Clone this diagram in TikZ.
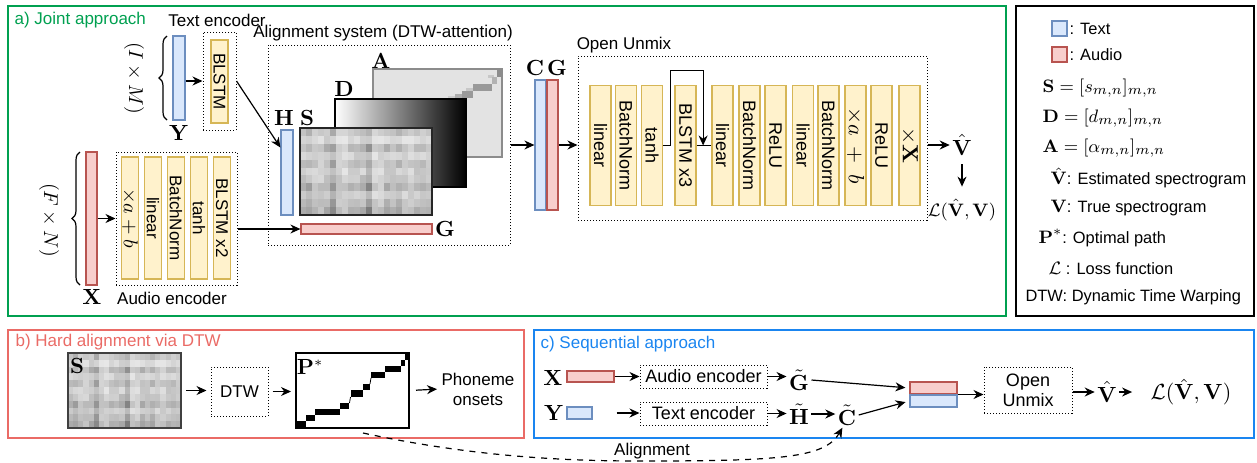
\documentclass[tikz,border=0pt]{standalone}
\usepackage[no-math]{fontspec}
\setmainfont{Liberation Sans}
\usetikzlibrary{arrows.meta,calc,decorations.pathreplacing}

\definecolor{blkfill}{HTML}{FFF2CC}
\definecolor{blkline}{HTML}{D6B656}
\definecolor{txtfill}{HTML}{DAE8FC}
\definecolor{txtline}{HTML}{6C8EBF}
\definecolor{audfill}{HTML}{F8CECC}
\definecolor{audline}{HTML}{B85450}
\definecolor{jointgreen}{HTML}{00A050}
\definecolor{hardred}{HTML}{EA6B66}
\definecolor{seqblue}{HTML}{1A85F0}

% similarity matrix texture: x, y, width, height (px)
\newcommand{\simtex}[4]{%
  \pgfmathsetseed{11}%
  \foreach \ri in {0,...,10}{%
    \foreach \ci in {0,...,21}{%
      \pgfmathsetmacro{\gv}{6+44*{0.5,0.2,0.7,0.3,0.6,0.3,0.5,0.8,0.4,0.6,0.9}[\ri]*{0.5,0.7,0.4,0.4,0.6,1.0,0.4,0.3,0.5,0.5,0.6,1.0,0.3,0.3,0.6,0.5,0.7,0.4,0.3,0.6,0.5,0.4}[\ci]+10*rnd}%
      \fill[black!\gv] ({#1+\ci*#3/22},{#2+\ri*#4/11}) rectangle ({#1+(\ci+1)*#3/22+0.4},{#2+(\ri+1)*#4/11+0.4});
    }%
  }%
}
\newcommand{\lgm}[1]{{\fontsize{9.5}{11}\selectfont$#1$}}

\tikzset{
  panel/.style={line width=0.75pt},
  lbl/.style={font=\fontsize{8.5}{10}\selectfont, inner sep=1pt},
  mlbl/.style={font=\fontsize{10.5}{12}\selectfont, inner sep=1pt},
  lgd/.style={font=\fontsize{8.2}{10}\selectfont, anchor=west, inner sep=0pt},
  blk/.style={draw=blkline, fill=blkfill, line width=0.6pt, rotate=-90, inner sep=0pt,
    font=\fontsize{8.5}{10}\selectfont},
  dotbox/.style={draw, densely dotted, line width=0.5pt, inner sep=0pt},
  txtbar/.style={draw=txtline, fill=txtfill, line width=0.6pt, inner sep=0pt},
  audbar/.style={draw=audline, fill=audfill, line width=0.6pt, inner sep=0pt},
}

\begin{document}
\begin{tikzpicture}[x=0.5pt, y=-0.5pt, line width=0.6pt, >={Stealth[length=5pt,width=4.5pt]}]
\useasboundingbox (0,0) rectangle (1257,462);

% ---------------- a) joint approach
\draw[panel, draw=jointgreen] (8,6) rectangle (1006,316);
\node[lbl, text=jointgreen, anchor=west] (ttla) at (12,20) {a) Joint approach};

% text encoder
\node[lbl] (tenclbl) at (217,20) {Text encoder};
\node[txtbar, minimum width=6pt, minimum height=42pt] (ybar) at (179,78) {};
\node[mlbl] (ylbl) at (179,133) {$\mathbf{Y}$};
\draw[decorate, decoration={brace, amplitude=4pt}] (167,120) -- (167,36);
\node[mlbl, rotate=-90, font=\fontsize{10}{12}\selectfont] (ydim) at (134,78) {$(I\times M)$};
\node[dotbox, minimum width=16.5pt, minimum height=49pt] (tenc) at (219.5,81) {};
\node[blk, minimum width=41.5pt, minimum height=8.5pt] (tblstm) at (219.5,81.5) {BLSTM};
\draw[->] (ybar.east |- tenc.west) -- (tenc.west);

% audio encoder
\node[audbar, minimum width=5.5pt, minimum height=66.5pt] (xbar) at (91.5,218.5) {};
\node[mlbl] (xlbl) at (92,297) {$\mathbf{X}$};
\draw[decorate, decoration={brace, amplitude=4pt}] (80,285) -- (80,152);
\node[mlbl, rotate=-90, font=\fontsize{10}{12}\selectfont] (xdim) at (49,220) {$(F\times N)$};
\node[dotbox, minimum width=60.5pt, minimum height=66.5pt] (aenc) at (176.5,218.5) {};
\foreach \nm/\xx/\tx in {ascale/130/{{\fontsize{10}{12}\selectfont$\times a+b$}}, alin/153/linear,
    abn/176/BatchNorm, atanh/199/tanh, ablstm/222/BLSTM x2}
  \node[blk, minimum width=61pt, minimum height=8.5pt] (\nm) at (\xx,218) {\tx};
\node[lbl] (aenclbl) at (172,298) {Audio encoder};
\draw[->] (xbar.east) -- (aenc.west);

% alignment system
\node[lbl] (alnlbl) at (383,33) {Alignment system (DTW-attention)};
\node[dotbox, minimum width=121pt, minimum height=100pt] (aln) at (389,145) {};
% A
\node[draw=black!45, fill=black!11, line width=0.6pt, inner sep=0pt, minimum width=64.5pt, minimum height=44pt] (amat) at (437.5,113) {};
\fill[black!20] (448,96) rectangle (456,99);
\fill[black!22] (466,88) rectangle (476,91);
\fill[black!22] (488,75) rectangle (494,78);
\fill[black!32] (455,94) rectangle (462,99);
\fill[black!40] (462,91) rectangle (473,98);
\fill[black!40] (473,84) rectangle (492,91);
\fill[black!30] (492,77) rectangle (497,84);
\fill[black!45] (497,70) rectangle (501.5,77);
\node[mlbl] (albl) at (381,61) {$\mathbf{A}$};
% D
\shade[left color=white, right color=black] (335,99) rectangle (466,187);
\node[draw, line width=0.8pt, inner sep=0pt, minimum width=65.5pt, minimum height=44pt] (dmat) at (400.5,143) {};
\node[mlbl] (dlbl) at (344,89) {$\mathbf{D}$};
% S
\simtex{300}{128}{132}{87}
\node[draw=black!85, line width=1pt, inner sep=0pt, minimum width=66pt, minimum height=43.5pt] (smat) at (366,171.5) {};
\node[mlbl] (slbl) at (307,118) {$\mathbf{S}$};
% H, G
\node[txtbar, minimum width=6pt, minimum height=42.5pt] (hbar) at (287,172.5) {};
\node[mlbl] (hlbl) at (284,118) {$\mathbf{H}$};
\node[audbar, minimum width=65.5pt, minimum height=5pt] (gbar) at (366.5,229) {};
\node[mlbl] (glbl) at (445,229) {$\mathbf{G}$};
\draw[->] (tenc.east) -- ($(hbar.north west)!0.21!(hbar.south west)$);
\draw[->] (aenc.east |- gbar.west) -- (gbar.west);

% C and G
\node[txtbar, minimum width=5.5pt, minimum height=65pt] (cbar) at (540.5,145) {};
\node[audbar, minimum width=5.5pt, minimum height=65pt] (g2bar) at (552.5,145) {};
\node[mlbl] (clbl) at (535,68) {$\mathbf{C}$};
\node[mlbl] (g2lbl) at (557,68) {$\mathbf{G}$};
\draw[->] (aln.east) -- (cbar.west);

% open unmix
\node[lbl] (unmixlbl) at (624,45) {Open Unmix};
\node[dotbox, minimum width=174.5pt, minimum height=82pt] (unmix) at (752.5,138) {};
\foreach \nm/\xx/\tx in {ulin1/600.5/linear, ubn1/626/BatchNorm, utanh/652/tanh, ublstm/685.5/BLSTM x3,
    ulin2/722.5/linear, ubn2/749.5/BatchNorm, urelu1/775.5/ReLU, ulin3/803/linear, ubn3/828.5/BatchNorm,
    uscale/855.5/{{\fontsize{11}{12}\selectfont$\times a\;+\;b$}}, urelu2/881.5/ReLU,
    umask/909.5/{{\fontsize{11}{12}\selectfont$\times\mathbf{X}$}}}
  \node[blk, font=\fontsize{9}{10}\selectfont, minimum width=60pt, minimum height=10.5pt] (\nm) at (\xx,145.5) {\tx};
\draw[->] (g2bar.east) -- (g2bar.east -| unmix.west);
\coordinate (skipin) at ($(ublstm.north)!0.44!(ulin2.south)$);
\draw (ublstm.north) -- (ulin2.south);
\draw[->] (utanh.north) -- ++(3.5pt,0) |- ($(skipin)+(0,-75)$) -- (skipin);

\node[mlbl] (vhat) at (962,145) {$\hat{\mathbf{V}}$};
\draw[->] (unmix.east |- vhat) -- (vhat.west);
\node[mlbl, font=\fontsize{9.5}{11}\selectfont] (loss) at (962,210) {$\mathcal{L}(\hat{\mathbf{V}},\mathbf{V})$};
\draw[->, shorten <=3pt, shorten >=5pt] (vhat.south) -- (loss.north);

% ---------------- legend
\draw[panel] (1016,6) rectangle (1254,316);
\node[txtbar, minimum size=7.5pt] (lgtxt) at (1059.5,28.5) {};
\node[lgd] (lgtxtlbl) at (1069,29) {: Text};
\node[audbar, minimum size=7.5pt] (lgaud) at (1059.5,54.5) {};
\node[lgd] (lgaudlbl) at (1069,55) {: Audio};
\node[lgd] (lgs) at (1042,88) {\lgm{\mathbf{S}=[s_{m,n}]_{m,n}}};
\node[lgd] (lgdm) at (1042,118) {\lgm{\mathbf{D}=[d_{m,n}]_{m,n}}};
\node[lgd] (lga) at (1042,148) {\lgm{\mathbf{A}=[\alpha_{m,n}]_{m,n}}};
\node[lgd] (lgvh) at (1050,178) {\lgm{\hat{\mathbf{V}}}: Estimated spectrogram};
\node[lgd] (lgv) at (1050,208) {\lgm{\mathbf{V}}: True spectrogram};
\node[lgd] (lgp) at (1038,238) {\lgm{\mathbf{P}^*}: Optimal path};
\node[lgd] (lgl) at (1048,268) {\lgm{\mathcal{L}} : Loss function};
\node[lgd] (lgdtw) at (1025,297) {DTW: Dynamic Time Warping};

% ---------------- b) hard alignment
\draw[panel, draw=hardred] (8,330) rectangle (524,438);
\node[lbl, text=hardred, anchor=west] (ttlb) at (13,342) {b) Hard alignment via DTW};
\simtex{68}{353}{113}{75}
\node[draw=black!75, line width=0.8pt, inner sep=0pt, minimum width=56.5pt, minimum height=37.5pt] (ssmall) at (124.5,390.5) {};
\node[mlbl] (sslbl) at (77,366) {$\mathbf{S}$};
\node[dotbox, lbl, inner sep=0pt, minimum width=28.5pt, minimum height=24.5pt] (dtw) at (239.5,391.5) {DTW};
\fill (297,421) rectangle (306,428);
\fill (306,415) rectangle (315,421);
\fill (315,409) rectangle (340,415);
\fill (340,403) rectangle (349,409);
\draw[line width=0.4pt] (349.5,403) -- (350.5,397);
\fill (351,390) rectangle (363,397);
\fill (363,384) rectangle (370,390);
\draw[line width=0.4pt] (370,384) -- (371,378);
\fill (371,372) rectangle (385,378);
\fill (385,366) rectangle (401,372);
\fill (401,360) rectangle (405,366);
\fill (405,353) rectangle (409,360);
\node[draw, line width=1pt, inner sep=0pt, minimum width=56.5pt, minimum height=37.5pt] (pstar) at (352.5,390.5) {};
\node[mlbl] (plbl) at (310,367) {$\mathbf{P}^*$};
\node[lbl, align=center] (onsets) at (478,389) {Phoneme\\onsets};
\draw[->, shorten <=2pt, shorten >=2pt] (ssmall.east) -- (ssmall.east -| dtw.west);
\draw[->, shorten <=2pt, shorten >=2pt] (dtw.east) -- (dtw.east -| pstar.west);
\draw[->, shorten <=3pt, shorten >=1pt] (pstar.east) -- (onsets.west);

% ---------------- c) sequential approach
\draw[panel, draw=seqblue] (534,330) rectangle (1254,438);
\node[lbl, text=seqblue, anchor=west] (ttlc) at (538,344) {c) Sequential approach};
\node[mlbl] (cx) at (553,378) {$\mathbf{X}$};
\node[audbar, minimum width=23.5pt, minimum height=5.5pt] (cxbar) at (590.5,376.5) {};
\node[dotbox, font=\fontsize{9}{10}\selectfont, minimum width=63.5pt, minimum height=11.5pt] (caenc) at (703.5,376.5) {Audio encoder};
\draw[->] (cxbar.east) -- (caenc.west);
\node[mlbl] (cgt) at (799,380) {$\tilde{\mathbf{G}}$};
\draw[->] (caenc.east) -- (caenc.east -| cgt.west);
\node[mlbl] (cy) at (554,413) {$\mathbf{Y}$};
\node[txtbar, minimum width=12.5pt, minimum height=6pt] (cybar) at (579.5,413) {};
\node[dotbox, font=\fontsize{9}{10}\selectfont, minimum width=63.5pt, minimum height=11.5pt] (ctenc) at (703.5,413.5) {Text encoder};
\draw[->, shorten <=12pt] (cybar.east) -- (cybar.east -| ctenc.west);
\node[mlbl] (cht) at (799,414) {$\tilde{\mathbf{H}}$};
\draw[->] (ctenc.east) -- (ctenc.east -| cht.west);
\node[mlbl] (cct) at (847,415) {$\tilde{\mathbf{C}}$};
\draw[->] (cht.east) -- (cht.east -| cct.west);
\node[audbar, minimum width=23.5pt, minimum height=6pt] (cgbar) at (933.5,388) {};
\node[txtbar, minimum width=23.5pt, minimum height=6pt] (ccbar) at (933.5,401) {};
\draw[->, shorten >=2pt] (cgt.east) -- (cgbar.west);
\draw[->, shorten >=2pt] (cct.east) -- (ccbar.west);
\coordinate (cmid) at ($(cgbar.south east)!0.5!(ccbar.north east)$);
\node[dotbox, font=\fontsize{9}{10}\selectfont, align=center, minimum width=44pt, minimum height=23pt] (cunmix) at (1028,390) {Open\\Unmix};
\draw[->] (cmid) -- (cmid -| cunmix.west);
\node[mlbl] (cvhat) at (1107,392) {$\hat{\mathbf{V}}$};
\draw[->] (cunmix.east |- cvhat) -- (cvhat.west);
\node[mlbl, font=\fontsize{11}{13}\selectfont] (closs) at (1191,392) {$\mathcal{L}(\hat{\mathbf{V}},\mathbf{V})$};
\draw[->, shorten >=8pt] (cvhat.east) -- (closs.west);

% alignment link
\coordinate (algstart) at (363,433);
\draw[->, dashed] (algstart) .. controls (470,456) and (560,461) .. (640,461)
  .. controls (780,461) and (825,458) .. (cct.-110);
\node[lbl] (alglbl) at (652,451) {Alignment};
\end{tikzpicture}
\end{document}
